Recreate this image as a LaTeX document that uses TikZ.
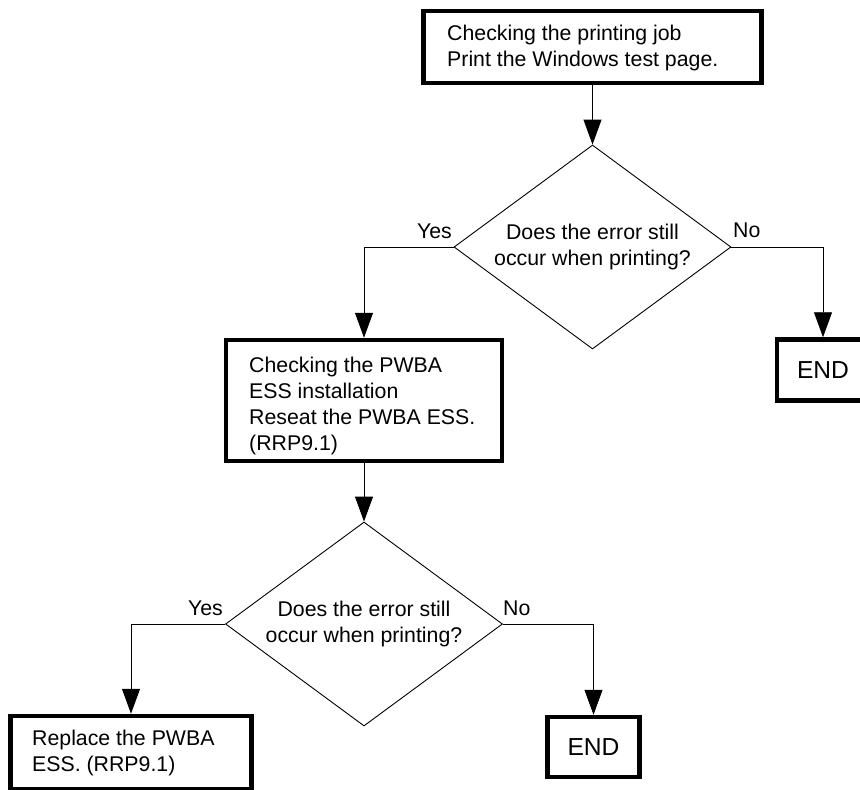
\documentclass[tikz,border=0pt]{standalone}
\usepackage{fontspec}
\setmainfont{Liberation Sans}
\usetikzlibrary{arrows.meta, positioning, shapes.geometric}

\newcommand{\flowfont}{\fontsize{21.3}{26}\selectfont}
\newcommand{\bigflowfont}{\fontsize{24.6}{29}\selectfont}

\tikzset{
  stepbox/.style={draw, rectangle, line width=4.5pt, inner sep=0pt},
  steptext/.style={font=\flowfont, align=left, inner sep=0pt, anchor=base west},
  query/.style={draw, diamond, aspect=1.36, line width=0.9pt, inner sep=0pt,
    minimum width=277pt, minimum height=204pt, font=\flowfont, align=center},
  endbox/.style={stepbox, minimum width=92pt, font=\bigflowfont},
  answer/.style={font=\flowfont, inner sep=0pt},
  flow/.style={-{Triangle[length=25pt, width=18pt]}, line width=0.9pt}
}

\begin{document}
\begin{tikzpicture}[x=1pt, y=-1pt]
  \useasboundingbox (0,0) rectangle (860,790);
  % trin 1 (tekst sat ved sidste linjes grundlinje)
  \node[stepbox, minimum width=338pt, minimum height=72pt] (job) at (592.5,47) {};
  \node[steptext] (jobtext) at (447,66) {Checking the printing job\\Print the Windows test page.};
  % spørgsmål 1
  \node[query] (q1) at (592.5,247) {Does the error still\\occur when printing?};
  \node[answer, anchor=base east] (yes1) at (452,238) {Yes};
  \node[answer, anchor=base west] (no1) at (733,237) {No};
  \node[endbox, minimum height=61pt] (end1) at (823,370) {END};
  % trin 2
  \node[stepbox, minimum width=276pt, minimum height=121pt] (ess) at (364,400.5) {};
  \node[steptext] (esstext) at (249,450) {Checking the PWBA\\ESS installation\\Reseat the PWBA ESS.\\(RRP9.1)};
  % spørgsmål 2
  \node[query] (q2) at (364,624) {Does the error still\\occur when printing?};
  \node[answer, anchor=base east] (yes2) at (223,615) {Yes};
  \node[answer, anchor=base west] (no2) at (503,615) {No};
  \node[endbox, minimum height=60pt] (end2) at (593.5,747) {END};
  % trin 3
  \node[stepbox, minimum width=241pt, minimum height=73pt] (rep) at (131,752.5) {};
  \node[steptext] (reptext) at (32,771) {Replace the PWBA\\ESS. (RRP9.1)};
  % pile
  \draw[flow] (job.south) -- (q1.north);
  \draw[flow] (q1.west) -| (ess.north);
  \draw[flow] (q1.east) -| (end1.north);
  \draw[flow] (ess.south) -- (q2.north);
  \draw[flow] (q2.west) -| (rep.north);
  \draw[flow] (q2.east) -| (end2.north);
\end{tikzpicture}
\end{document}
